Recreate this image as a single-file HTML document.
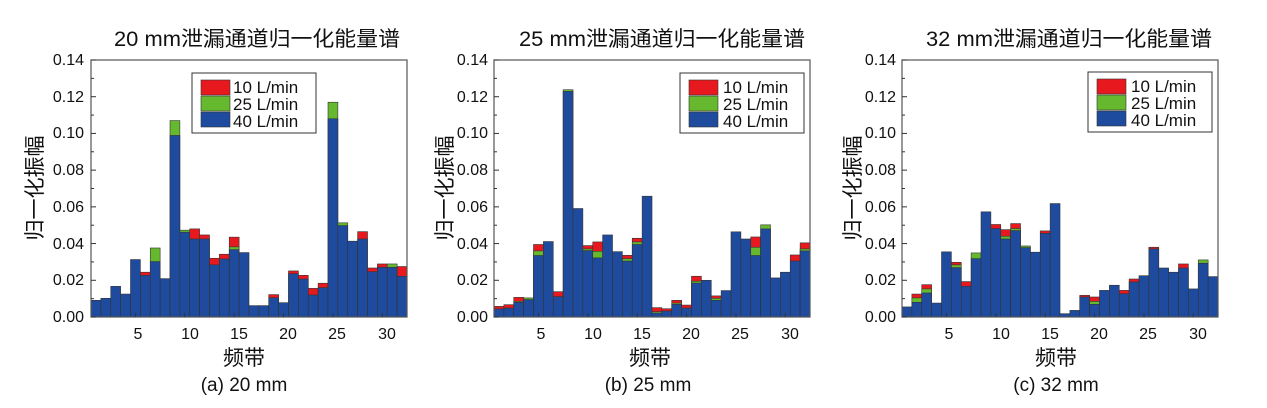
<!DOCTYPE html>
<html><head><meta charset="utf-8"><style>
html,body{margin:0;padding:0;background:#fff;}
svg{display:block;font-family:"Liberation Sans","Noto Sans CJK SC",sans-serif;}
</style></head><body>
<svg id="s" width="1267" height="408" viewBox="0 0 1267 408" xmlns="http://www.w3.org/2000/svg">
<g font-size="21" fill="#111">
<text x="114" y="46" textLength="286" lengthAdjust="spacingAndGlyphs">20 mm泄漏通道归一化能量谱</text>
<text x="519" y="46" textLength="286" lengthAdjust="spacingAndGlyphs">25 mm泄漏通道归一化能量谱</text>
<text x="926" y="46" textLength="286" lengthAdjust="spacingAndGlyphs">32 mm泄漏通道归一化能量谱</text>
</g>
<g font-size="16" fill="#111" text-anchor="end">
<text x="84" y="322">0.00</text><text x="84" y="285">0.02</text><text x="84" y="249">0.04</text><text x="84" y="212">0.06</text><text x="84" y="175">0.08</text><text x="84" y="138">0.10</text><text x="84" y="102">0.12</text><text x="84" y="65">0.14</text>
<text x="488" y="322">0.00</text><text x="488" y="285">0.02</text><text x="488" y="249">0.04</text><text x="488" y="212">0.06</text><text x="488" y="175">0.08</text><text x="488" y="138">0.10</text><text x="488" y="102">0.12</text><text x="488" y="65">0.14</text>
<text x="896" y="322">0.00</text><text x="896" y="285">0.02</text><text x="896" y="249">0.04</text><text x="896" y="212">0.06</text><text x="896" y="175">0.08</text><text x="896" y="138">0.10</text><text x="896" y="102">0.12</text><text x="896" y="65">0.14</text>
</g>
<g font-size="16" fill="#111" text-anchor="middle">
<text x="138" y="339">5</text><text x="190" y="339">10</text><text x="239" y="339">15</text><text x="288" y="339">20</text><text x="337" y="339">25</text><text x="387" y="339">30</text>
<text x="541" y="339">5</text><text x="593" y="339">10</text><text x="642" y="339">15</text><text x="691" y="339">20</text><text x="740" y="339">25</text><text x="790" y="339">30</text>
<text x="949" y="339">5</text><text x="1001" y="339">10</text><text x="1050" y="339">15</text><text x="1099" y="339">20</text><text x="1148" y="339">25</text><text x="1198" y="339">30</text>
</g>
<g font-size="21" fill="#111" text-anchor="middle">
<text x="244" y="365">频带</text><text x="650" y="365">频带</text><text x="1056" y="365">频带</text>
<text x="244" y="391" font-size="19">(a) 20 mm</text>
<text x="648" y="391" font-size="19">(b) 25 mm</text>
<text x="1056" y="391" font-size="19">(c) 32 mm</text>
<text transform="translate(42,188) rotate(-90)">归一化振幅</text>
<text transform="translate(452,188) rotate(-90)">归一化振幅</text>
<text transform="translate(860,188) rotate(-90)">归一化振幅</text>
</g>
<g id="charts"></g>
<g font-size="17" fill="#111">
<text x="233" y="93">10 L/min</text><text x="233" y="110">25 L/min</text><text x="233" y="127">40 L/min</text>
<text x="723" y="93">10 L/min</text><text x="723" y="110">25 L/min</text><text x="723" y="127">40 L/min</text>
<text x="1131" y="92">10 L/min</text><text x="1131" y="109">25 L/min</text><text x="1131" y="126">40 L/min</text>
</g>
</svg>
<script>
var B="#1f4b9e",G="#66b92e",R="#e8191e";
var d1=[[.0091],[.0102],[.0167],[.0125],[.0313],[.0227,0,.0244],[.0302,.0376],[.0209],[.0989,.107],[.0462,.0473],[.0425,0,.048],[.0425,0,.0447],[.0284,0,.032],[.0316,0,.0342],[.0367,.0382,.0435],[.0351],[.0062],[.0062],[.0105,0,.0122],[.0078],[.0236,0,.0251],[.0207,0,.0227],[.012,0,.0156],[.016,0,.0184],[.108,.117],[.0498,.0513],[.0413],[.0425,0,.0465],[.0247,0,.0267],[.0271,0,.0289],[.0271,.0289],[.0222,0,.0275]];
var d2=[[.0044,0,.0058],[.0049,0,.0067],[.008,.0085,.0107],[.0095,.0104],[.0335,.036,.0395],[.0411],[.0111,0,.0138],[.1229,.1238],[.0591],[.0362,.0371,.0389],[.0322,.0358,.0409],[.0447],[.0356],[.0305,.0318,.0336],[.0395,.0409,.0429],[.0658],[.0022,.0029,.0051],[.0033,0,.0045],[.0069,.0076,.0091],[.0049,0,.0065],[.0185,.0195,.0222],[.02],[.0091,.0102,.0115],[.0144],[.0464],[.0425],[.0335,.038,.0436],[.048,.0502],[.0213],[.0244],[.0305,0,.0338],[.036,.0371,.0404]];
var d3=[[.0055],[.008,.0104,.0125],[.0131,.0153,.0176],[.0076],[.0355],[.0269,.0284,.0298],[.0167,0,.0193],[.0318,.0349],[.0573],[.0482,0,.0504],[.0425,.044,.0476],[.0471,.0482,.0509],[.0378,.0387],[.0353],[.0456,0,.0469],[.0618],[.0018],[.0036],[.0109,0,.0118],[.0069,.0085,.0109],[.0145],[.0173],[.0127,0,.0145],[.0191,0,.0207],[.0225],[.0371,0,.038],[.0267],[.0244],[.0267,0,.0289],[.0153],[.0293,.0311],[.022]];
var g=document.getElementById("charts"),h="";
function rect(x,y,w,hh,c){return '<rect x="'+x.toFixed(2)+'" y="'+y.toFixed(2)+'" width="'+w.toFixed(2)+'" height="'+Math.max(hh,0).toFixed(2)+'" fill="'+c+'" stroke="#333" stroke-width="0.6"/>';}
function chart(L,data,lx,ly){
 var W=316,T=60,Bt=317,bw=W/32;
 function Y(v){return Bt-v/0.14*(Bt-T);}
 data.forEach(function(b,i){
  var x=L+i*bw;
  var order=[];
  if(b[2])order.push([b[2],R]);
  if(b[1])order.push([b[1],G]);
  order.push([b[0],B]);
  order.forEach(function(o){h+=rect(x,Y(o[0]),bw,Bt-Y(o[0]),o[1]);});
 });
 h+='<rect x="'+L+'" y="'+T+'" width="'+W+'" height="'+(Bt-T)+'" fill="none" stroke="#555" stroke-width="1.2"/>';
 for(var k=0;k<=14;k++){var y=Y(k*0.01);h+='<line x1="'+L+'" x2="'+(L+(k%2?3:5))+'" y1="'+y+'" y2="'+y+'" stroke="#333"/>';}
 for(var t=5;t<=30;t+=5){var x=L+(t-0.5)*bw;h+='<line x1="'+x+'" x2="'+x+'" y1="'+Bt+'" y2="'+(Bt-4)+'" stroke="#333"/>';}
 h+='<rect x="'+lx+'" y="'+ly+'" width="124" height="60" fill="#fff" stroke="#333" stroke-width="1"/>';
 h+=rect(lx+9,ly+7,29,15,R)+rect(lx+9,ly+23,29,15,G)+rect(lx+9,ly+39,29,15,B);
}
chart(91,d1,192,73);chart(494,d2,680,73);chart(902,d3,1088,72);
g.innerHTML=h;
</script>
</body></html>
